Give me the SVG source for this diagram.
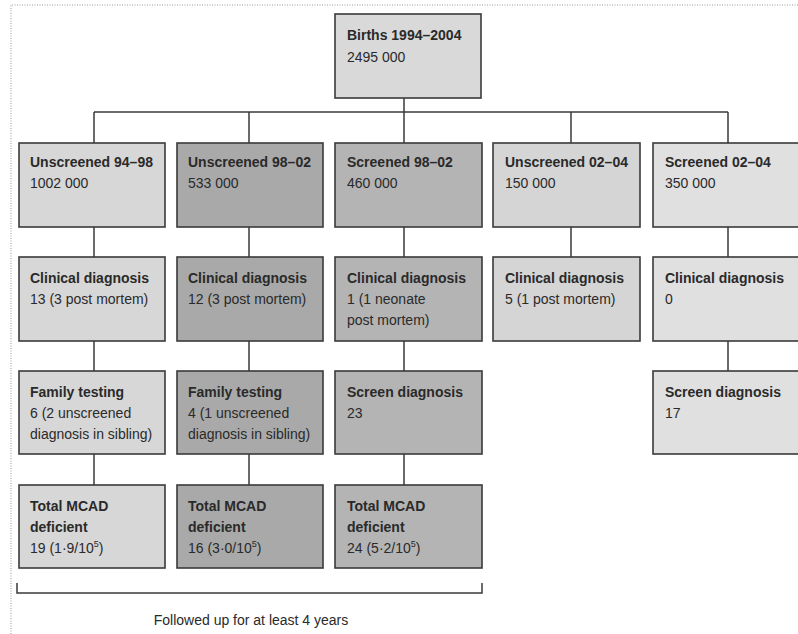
<svg xmlns="http://www.w3.org/2000/svg" width="798" height="634" viewBox="0 0 798 634">
<style>
  .box { stroke: #3a3a3a; stroke-width: 1.6; }
  .c1 { fill: #d7d7d7; }
  .c2 { fill: #a9a9a9; }
  .c3 { fill: #b4b4b4; }
  .c4 { fill: #d5d5d5; }
  .c5 { fill: #e0e0e0; }
  .cb { fill: #d9d9d9; }
  text { font-family: "Liberation Sans", Arial, sans-serif; font-size: 14px; fill: #2a2a2a; }
  .h { font-weight: bold; }
  .sup { font-size: 9px; }
  .conn { stroke: #3a3a3a; stroke-width: 1.5; fill: none; }
  .frame { stroke: #9a9a9a; stroke-width: 1; stroke-dasharray: 1 1.5; fill: none; }
</style>
<rect x="0" y="0" width="798" height="634" fill="#ffffff"/>
<path class="frame" d="M11,634 V5 H798"/>

<g id="connectors">
  <path class="conn" d="M404,98 V112 M94,112 H728 M94,112 V143 M249,112 V143 M404,112 V143 M571,112 V143 M728,112 V143"/>
  <path class="conn" d="M94,227 V257 M249,227 V257 M404,227 V257 M571,227 V257 M728,227 V257"/>
  <path class="conn" d="M94,341 V371 M249,341 V371 M404,341 V371 M728,341 V371"/>
  <path class="conn" d="M94,454 V485 M249,454 V485 M404,454 V485"/>
  <path class="conn" d="M17,583 V593 H482 V583"/>
</g>

<g id="births">
  <rect class="box cb" x="335" y="14" width="146" height="84"/>
  <text x="347" y="40" class="h">Births 1994–2004</text>
  <text x="347" y="62">2495 000</text>
</g>

<g id="unscreened-94-98">
  <rect class="box c1" x="19" y="143" width="146" height="84"/>
  <text x="30" y="167" class="h">Unscreened 94–98</text>
  <text x="30" y="188">1002 000</text>
</g>
<g id="unscreened-98-02">
  <rect class="box c2" x="177" y="143" width="146" height="84"/>
  <text x="188" y="167" class="h">Unscreened 98–02</text>
  <text x="188" y="188">533 000</text>
</g>
<g id="screened-98-02">
  <rect class="box c3" x="335" y="143" width="147" height="84"/>
  <text x="347" y="167" class="h">Screened 98–02</text>
  <text x="347" y="188">460 000</text>
</g>
<g id="unscreened-02-04">
  <rect class="box c4" x="493" y="143" width="147" height="84"/>
  <text x="505" y="167" class="h">Unscreened 02–04</text>
  <text x="505" y="188">150 000</text>
</g>
<g id="screened-02-04">
  <rect class="box c5" x="653" y="143" width="150" height="84"/>
  <text x="665" y="167" class="h">Screened 02–04</text>
  <text x="665" y="188">350 000</text>
</g>

<g id="clinical-1">
  <rect class="box c1" x="19" y="257" width="146" height="84"/>
  <text x="30" y="283" class="h">Clinical diagnosis</text>
  <text x="30" y="304">13 (3 post mortem)</text>
</g>
<g id="clinical-2">
  <rect class="box c2" x="177" y="257" width="146" height="84"/>
  <text x="188" y="283" class="h">Clinical diagnosis</text>
  <text x="188" y="304">12 (3 post mortem)</text>
</g>
<g id="clinical-3">
  <rect class="box c3" x="335" y="257" width="147" height="84"/>
  <text x="347" y="283" class="h">Clinical diagnosis</text>
  <text x="347" y="304">1 (1 neonate</text>
  <text x="347" y="325">post mortem)</text>
</g>
<g id="clinical-4">
  <rect class="box c4" x="493" y="257" width="147" height="84"/>
  <text x="505" y="283" class="h">Clinical diagnosis</text>
  <text x="505" y="304">5 (1 post mortem)</text>
</g>
<g id="clinical-5">
  <rect class="box c5" x="653" y="257" width="150" height="84"/>
  <text x="665" y="283" class="h">Clinical diagnosis</text>
  <text x="665" y="304">0</text>
</g>

<g id="family-1">
  <rect class="box c1" x="19" y="371" width="146" height="83"/>
  <text x="30" y="397" class="h">Family testing</text>
  <text x="30" y="418">6 (2 unscreened</text>
  <text x="30" y="439">diagnosis in sibling)</text>
</g>
<g id="family-2">
  <rect class="box c2" x="177" y="371" width="146" height="83"/>
  <text x="188" y="397" class="h">Family testing</text>
  <text x="188" y="418">4 (1 unscreened</text>
  <text x="188" y="439">diagnosis in sibling)</text>
</g>
<g id="screen-3">
  <rect class="box c3" x="335" y="371" width="147" height="83"/>
  <text x="347" y="397" class="h">Screen diagnosis</text>
  <text x="347" y="418">23</text>
</g>
<g id="screen-5">
  <rect class="box c5" x="653" y="371" width="150" height="83"/>
  <text x="665" y="397" class="h">Screen diagnosis</text>
  <text x="665" y="418">17</text>
</g>

<g id="total-1">
  <rect class="box c1" x="19" y="485" width="146" height="83"/>
  <text x="30" y="511" class="h">Total MCAD</text>
  <text x="30" y="532" class="h">deficient</text>
  <text x="30" y="553">19 (1·9/10<tspan class="sup" dy="-6">5</tspan><tspan dy="6">)</tspan></text>
</g>
<g id="total-2">
  <rect class="box c2" x="177" y="485" width="146" height="83"/>
  <text x="188" y="511" class="h">Total MCAD</text>
  <text x="188" y="532" class="h">deficient</text>
  <text x="188" y="553">16 (3·0/10<tspan class="sup" dy="-6">5</tspan><tspan dy="6">)</tspan></text>
</g>
<g id="total-3">
  <rect class="box c3" x="335" y="485" width="147" height="83"/>
  <text x="347" y="511" class="h">Total MCAD</text>
  <text x="347" y="532" class="h">deficient</text>
  <text x="347" y="553">24 (5·2/10<tspan class="sup" dy="-6">5</tspan><tspan dy="6">)</tspan></text>
</g>

<g id="follow-up-label">
  <text x="251" y="625" text-anchor="middle">Followed up for at least 4 years</text>
</g>
</svg>
